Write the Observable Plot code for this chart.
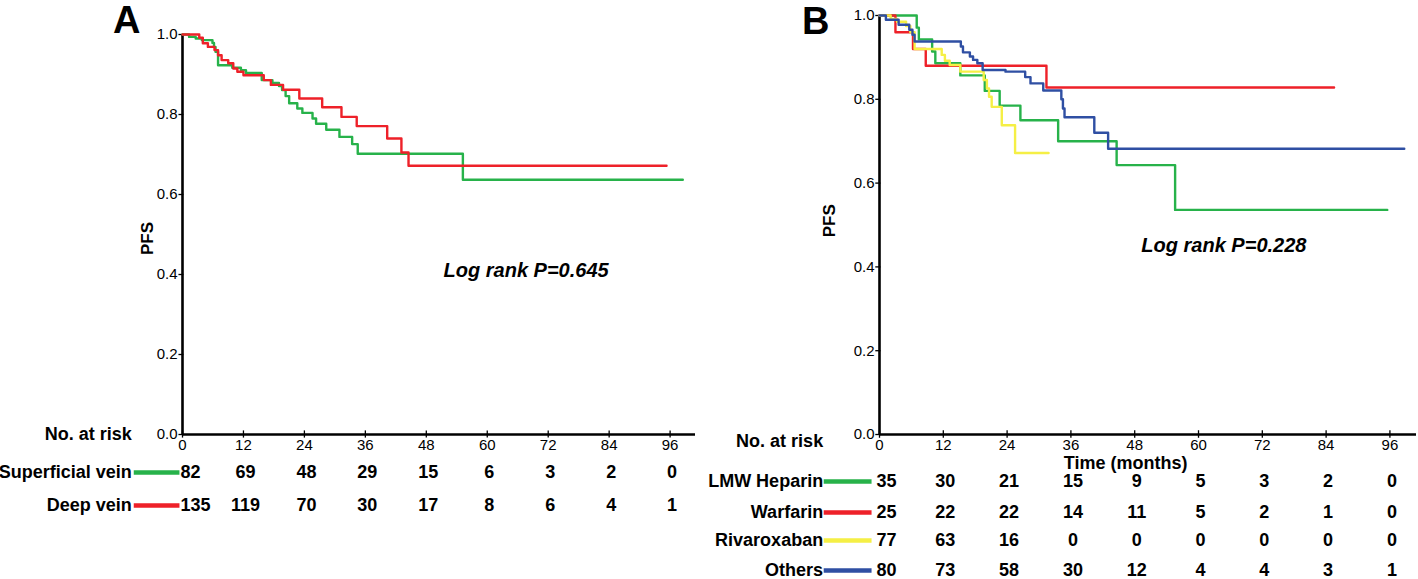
<!DOCTYPE html>
<html>
<head>
<meta charset="utf-8">
<script src="https://cdn.jsdelivr.net/npm/d3@7"></script>
<script src="https://cdn.jsdelivr.net/npm/@observablehq/plot@0.6"></script>
<style>
  html, body { margin: 0; padding: 0; background: #fff; }
  #wrap { display: flex; width: 1418px; height: 579px; overflow: hidden; }
  #wrap > div { width: 709px; height: 579px; }
</style>
</head>
<body>
<div id="wrap"><div id="pa"></div><div id="pb"></div></div>
<script>
// ---------- shared ticks ----------
const timeTicks = [0, 12, 24, 36, 48, 60, 72, 84, 96];
const pfsTicks = [0, 0.2, 0.4, 0.6, 0.8, 1.0];

// ---------- Panel A: Kaplan-Meier steps ----------
const supT = [0, 1.3, 2.6, 3.8, 5.9, 6.2, 6.5, 7.0, 9.8, 11.5, 12.5, 15.6, 17.7, 19.0, 19.6, 20.3, 21.0, 22.6, 23.6, 25.6, 26.3, 28.3, 30.9, 33.4, 34.5, 55.2, 98.5];
const supS = [1, 0.994, 0.99, 0.986, 0.979, 0.969, 0.957, 0.923, 0.917, 0.911, 0.904, 0.886, 0.879, 0.871, 0.861, 0.846, 0.828, 0.815, 0.804, 0.790, 0.777, 0.762, 0.744, 0.726, 0.702, 0.637, 0.637];
const deepT = [0, 3.3, 4.0, 5.0, 6.3, 7.0, 7.7, 9.0, 10.0, 10.8, 12.0, 16.0, 17.4, 19.8, 23.0, 27.5, 31.3, 34.3, 40.3, 43.1, 44.5, 95.3];
const deepS = [1, 0.992, 0.978, 0.969, 0.961, 0.948, 0.936, 0.928, 0.915, 0.907, 0.898, 0.886, 0.874, 0.862, 0.840, 0.818, 0.794, 0.771, 0.740, 0.705, 0.672, 0.672];

// ---------- Panel B: Kaplan-Meier steps ----------
const lmwT = [0, 7.0, 7.4, 9.9, 10.5, 15.2, 19.8, 22.6, 26.5, 33.6, 44.6, 55.6, 95.5];
const lmwS = [1, 0.971, 0.943, 0.914, 0.886, 0.857, 0.820, 0.785, 0.750, 0.700, 0.643, 0.536, 0.536];
const warT = [0, 3.0, 6.3, 8.7, 31.4, 85.5];
const warS = [1, 0.96, 0.92, 0.88, 0.828, 0.828];
const rivT = [0, 2.1, 3.3, 5.0, 5.8, 6.6, 11.7, 12.3, 13.2, 15.2, 19.6, 20.2, 20.6, 21.1, 23.0, 25.5, 31.8];
const rivS = [1, 0.992, 0.985, 0.975, 0.960, 0.920, 0.906, 0.892, 0.882, 0.866, 0.846, 0.826, 0.806, 0.782, 0.738, 0.672, 0.672];
const othT = [0, 1.2, 3.6, 5.6, 6.2, 6.6, 15.3, 15.7, 17.0, 17.6, 18.4, 19.4, 23.7, 27.4, 28.4, 30.8, 34.2, 34.5, 34.8, 40.4, 43.0, 98.7];
const othS = [1, 0.990, 0.978, 0.966, 0.954, 0.938, 0.926, 0.912, 0.902, 0.894, 0.886, 0.870, 0.866, 0.853, 0.838, 0.821, 0.800, 0.778, 0.757, 0.720, 0.682, 0.682];

// ---------- Numbers at risk ----------
const riskSup  = [82, 69, 48, 29, 15, 6, 3, 2, 0];
const riskDeep = [135, 119, 70, 30, 17, 8, 6, 4, 1];
const riskLmw  = [35, 30, 21, 15, 9, 5, 3, 2, 0];
const riskWar  = [25, 22, 22, 14, 11, 5, 2, 1, 0];
const riskRiv  = [77, 63, 16, 0, 0, 0, 0, 0, 0];
const riskOth  = [80, 73, 58, 30, 12, 4, 4, 3, 1];

// ---------- names & colours ----------
const namesA = ["Superficial vein", "Deep vein"];
const colorsA = ["#27b24a", "#ee2129"];
const namesB = ["LMW Heparin", "Warfarin", "Rivaroxaban", "Others"];
const colorsB = ["#27b24a", "#ee2129", "#f5ef45", "#2f4fa3"];

const FONT = "'Liberation Sans', Arial, Helvetica, sans-serif";
const km = (name, T, S) => T.map((t, i) => ({series: name, t, s: S[i]}));

function panel(cfg) {
  const marks = [
    // axes lines
    Plot.ruleX([0], {y1: 0, y2: 1, strokeWidth: 2.6, stroke: "#000"}),
    Plot.ruleY([0], {x1: 0, x2: cfg.xmax, strokeWidth: 2.6, stroke: "#000"}),
    // crossing tick marks
    Plot.ruleY(pfsTicks, {x1: -cfg.tickX, x2: cfg.tickX * 0.4, strokeWidth: 1.3, stroke: "#000"}),
    Plot.ruleX(timeTicks, {y1: -cfg.tickY, y2: cfg.tickY, strokeWidth: 1.3, stroke: "#000"}),
    Plot.axisY({ticks: pfsTicks, tickSize: 0, tickPadding: 5, tickFormat: d3.format(".1f"), fontSize: 15, label: null}),
    Plot.axisX({ticks: timeTicks, tickSize: 0, tickPadding: 5, fontSize: 15, label: null}),
    // curves
    Plot.line(cfg.curves, {x: "t", y: "s", z: "series", stroke: "series", curve: "step-after", strokeWidth: 2.4}),
    // panel letter
    Plot.text([cfg.letter], {x: cfg.letterX, y: cfg.letterY, text: d => d, fontSize: 38, fontWeight: "bold", textAnchor: "middle"}),
    // PFS label
    Plot.text(["PFS"], {x: cfg.pfsX, y: cfg.pfsY, text: d => d, rotate: -90, fontSize: 17, fontWeight: "bold"}),
    // log rank
    Plot.text([cfg.logText], {x: cfg.logX, y: cfg.logY, text: d => d, fontSize: 20, fontWeight: "bold", fontStyle: "italic", textAnchor: "end"}),
    // risk header
    Plot.text(["No. at risk"], {x: cfg.labelX, y: 0, dy: cfg.headerDy, text: d => d, fontSize: 18, fontWeight: "bold", textAnchor: "end"})
  ];
  if (cfg.timeLabel) {
    marks.push(Plot.text([cfg.timeLabel], {x: cfg.timeX, y: 0, dy: cfg.timeDy, text: d => d, fontSize: 18, fontWeight: "bold", textAnchor: "middle"}));
  }
  cfg.rows.forEach((r, i) => {
    const dy = cfg.rowDy[i];
    const recs = timeTicks.map((t, j) => ({t, n: r.counts[j]}));
    marks.push(
      Plot.text([r.name], {x: cfg.labelX, y: 0, dy, text: d => d, fontSize: 18, fontWeight: "bold", textAnchor: "end"}),
      Plot.ruleY([0], {x1: cfg.legX1, x2: cfg.legX2, dy, stroke: r.color, strokeWidth: 4.5}),
      Plot.text(recs.filter(d => d.t === 0), {x: "t", y: 0, dy, dx: cfg.col0dx, text: "n", fontSize: 18, fontWeight: "bold", textAnchor: "start"}),
      Plot.text(recs.filter(d => d.t > 0), {x: "t", y: 0, dy, dx: 2, text: "n", fontSize: 18, fontWeight: "bold", textAnchor: "middle"})
    );
  });
  return Plot.plot({
    width: 709, height: 579,
    marginLeft: cfg.mL, marginRight: cfg.mR, marginTop: cfg.mT, marginBottom: cfg.mB,
    x: {domain: [0, cfg.xmax]},
    y: {domain: [0, 1]},
    color: {domain: cfg.names, range: cfg.colors},
    style: {fontFamily: FONT, background: "#fff", color: "#000", overflow: "visible"},
    marks
  });
}

const curvesA = [...km(namesA[0], supT, supS), ...km(namesA[1], deepT, deepS)];
document.getElementById("pa").append(panel({
  mL: 182, mR: 14, mT: 34, mB: 145, xmax: 101, tickX: 0.7, tickY: 0.009,
  curves: curvesA, names: namesA, colors: colorsA,
  letter: "A", letterX: -11, letterY: 1.034,
  pfsX: -6.9, pfsY: 0.49,
  logText: "Log rank P=0.645", logX: 83.9, logY: 0.41,
  labelX: -10.0, headerDy: 0, legX1: -9.5, legX2: -0.5, col0dx: -2,
  rows: [
    {name: namesA[0], color: colorsA[0], counts: riskSup},
    {name: namesA[1], color: colorsA[1], counts: riskDeep}
  ],
  rowDy: [38, 71]
}));

const curvesB = [
  ...km(namesB[0], lmwT, lmwS), ...km(namesB[1], warT, warS),
  ...km(namesB[2], rivT, rivS), ...km(namesB[3], othT, othS)
];
document.getElementById("pb").append(panel({
  mL: 170, mR: 2, mT: 15, mB: 145, xmax: 101, tickX: 0.7, tickY: 0.009,
  curves: curvesB, names: namesB, colors: colorsB,
  letter: "B", letterX: -12, letterY: 0.986,
  pfsX: -9.4, pfsY: 0.51,
  logText: "Log rank P=0.228", logX: 80.3, logY: 0.452,
  labelX: -10.6, headerDy: 7, legX1: -10.4, legX2: -1.4, col0dx: -3,
  timeLabel: "Time (months)", timeX: 46.3, timeDy: 29,
  rows: [
    {name: namesB[0], color: colorsB[0], counts: riskLmw},
    {name: namesB[1], color: colorsB[1], counts: riskWar},
    {name: namesB[2], color: colorsB[2], counts: riskRiv},
    {name: namesB[3], color: colorsB[3], counts: riskOth}
  ],
  rowDy: [47, 78, 106, 136]
}));
</script>
</body>
</html>
